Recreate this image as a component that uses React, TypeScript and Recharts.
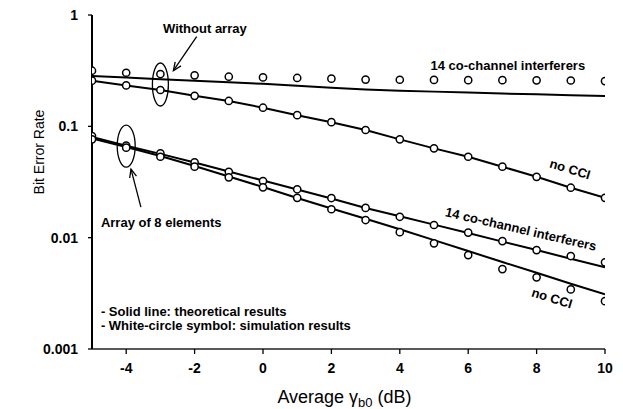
import React from 'react';
import { ComposedChart, Line, XAxis, YAxis, ReferenceDot, ReferenceLine } from 'recharts';

// x values: average gamma_b0 (dB)
const snrDb = [-5, -4, -3, -2, -1, 0, 1, 2, 3, 4, 5, 6, 7, 8, 9, 10];

// Without array, 14 co-channel interferers
const noArrayCciTheory = [0.283, 0.274, 0.265, 0.257, 0.249, 0.241, 0.232, 0.222, 0.214, 0.209, 0.205, 0.201, 0.197, 0.194, 0.19, 0.187];
const noArrayCciSim = [0.316, 0.303, 0.295, 0.287, 0.279, 0.275, 0.272, 0.268, 0.263, 0.262, 0.261, 0.26, 0.26, 0.259, 0.258, 0.255];
// Without array, no CCI
const noArrayNoCciTheory = [0.257, 0.233, 0.212, 0.188, 0.169, 0.147, 0.126, 0.109, 0.0927, 0.0764, 0.0634, 0.0533, 0.0434, 0.0352, 0.0281, 0.0228];
const noArrayNoCciSim = [0.257, 0.233, 0.212, 0.188, 0.169, 0.147, 0.126, 0.109, 0.0927, 0.0764, 0.0634, 0.0533, 0.0434, 0.0352, 0.0281, 0.0228];
// Array of 8 elements, 14 co-channel interferers
const arrayCciTheory = [0.0801, 0.067, 0.0566, 0.0473, 0.0393, 0.0326, 0.0271, 0.0225, 0.0185, 0.0156, 0.0131, 0.011, 0.00921, 0.00774, 0.00646, 0.00541];
const arrayCciSim = [0.0818, 0.067, 0.0572, 0.0475, 0.0391, 0.0323, 0.0272, 0.0227, 0.0185, 0.0154, 0.013, 0.0111, 0.00932, 0.00774, 0.00684, 0.006];
// Array of 8 elements, no CCI
const arrayNoCciTheory = [0.0777, 0.0652, 0.0541, 0.044, 0.0354, 0.0285, 0.0227, 0.0183, 0.0148, 0.0119, 0.00951, 0.00758, 0.00604, 0.00484, 0.00385, 0.0031];
const arrayNoCciSim = [0.0764, 0.0643, 0.0533, 0.0434, 0.0348, 0.0283, 0.0228, 0.018, 0.0144, 0.0112, 0.00889, 0.00698, 0.00522, 0.0044, 0.00343, 0.00269];

const xTicks = [-4, -2, 0, 2, 4, 6, 8, 10];
const yTicks = [0.001, 0.01, 0.1, 1];
const yTickLabels: Record<string, string> = { '0.001': '0.001', '0.01': '0.01', '0.1': '0.1', '1': '1' };

const data = snrDb.map((x, i) => ({
  x,
  t1: noArrayCciTheory[i],
  s1: noArrayCciSim[i],
  t2: noArrayNoCciTheory[i],
  s2: noArrayNoCciSim[i],
  t3: arrayCciTheory[i],
  s3: arrayCciSim[i],
  t4: arrayNoCciTheory[i],
  s4: arrayNoCciSim[i],
}));

const FONT = '"Liberation Sans", Arial, Helvetica, sans-serif';

const textShape = (text: string, rotate = 0, anchor: 'start' | 'middle' | 'end' = 'middle', size = 13) =>
  (p: any) => (
    <text
      x={p.cx}
      y={p.cy}
      textAnchor={anchor}
      dominantBaseline="central"
      fontSize={size}
      fontWeight="bold"
      fontFamily={FONT}
      fill="#000"
      transform={rotate ? `rotate(${rotate} ${p.cx} ${p.cy})` : undefined}
    >
      {text}
    </text>
  );

const ellipseShape = (rx: number, ry: number) => (p: any) => (
  <ellipse cx={p.cx} cy={p.cy} rx={rx} ry={ry} fill="none" stroke="#000" strokeWidth={1.3} />
);

const arrowShape = (p: any) => {
  const { x1, y1, x2, y2 } = p;
  const ang = Math.atan2(y2 - y1, x2 - x1);
  const len = 9;
  const spread = 0.4;
  const ax = x2 - len * Math.cos(ang - spread);
  const ay = y2 - len * Math.sin(ang - spread);
  const bx = x2 - len * Math.cos(ang + spread);
  const by = y2 - len * Math.sin(ang + spread);
  return (
    <g stroke="#000" strokeWidth={1.3} fill="none">
      <line x1={x1} y1={y1} x2={x2} y2={y2} />
      <polyline points={`${ax},${ay} ${x2},${y2} ${bx},${by}`} />
    </g>
  );
};

const simDot = { r: 3.6, fill: '#fff', stroke: '#000', strokeWidth: 1.5 };

const xLabel = (props: any) => {
  const vb = props.viewBox || {};
  const cx = vb.x + vb.width / 2 - 4;
  return (
    <text x={cx} y={vb.y + 54} textAnchor="middle" fontSize={18} fontFamily={FONT} fill="#000">
      <tspan>Average γ</tspan>
      <tspan fontSize={13} dy={4}>b0</tspan>
      <tspan dy={-4}> (dB)</tspan>
    </text>
  );
};

const yLabel = () => {
  const x = 39;
  const y = 152;
  return (
    <text
      x={x}
      y={y}
      textAnchor="middle"
      dominantBaseline="central"
      fontSize={14}
      fontFamily={FONT}
      fill="#000"
      transform={`rotate(-90 ${x} ${y})`}
    >
      Bit Error Rate
    </text>
  );
};

export default function App() {
  return (
    <div style={{ position: 'absolute', left: 0, top: 0, width: 623, height: 409, background: '#fff' }}>
      <ComposedChart width={623} height={409} data={data} margin={{ top: 15, right: 18, bottom: 0, left: 0 }}>
        <XAxis
          dataKey="x"
          type="number"
          domain={[-5, 10]}
          ticks={xTicks}
          allowDataOverflow
          height={60}
          tickSize={5}
          tickMargin={9}
          axisLine={{ stroke: '#222', strokeWidth: 1.5 }}
          tickLine={{ stroke: '#000', strokeWidth: 1.3 }}
          tick={{ fill: '#000', fontSize: 14, fontWeight: 'bold', fontFamily: FONT }}
          label={xLabel}
        />
        <XAxis
          xAxisId="top"
          orientation="top"
          dataKey="x"
          type="number"
          domain={[-5, 10]}
          height={0}
          tick={false}
          tickLine={false}
          axisLine={{ stroke: '#666', strokeWidth: 2 }}
        />
        <YAxis
          scale="log"
          domain={[0.001, 1]}
          ticks={yTicks}
          allowDataOverflow
          width={92}
          tickSize={4}
          tickMargin={10}
          tickFormatter={(v: number) => yTickLabels[String(v)] ?? String(v)}
          axisLine={{ stroke: '#000', strokeWidth: 2 }}
          tickLine={{ stroke: '#000', strokeWidth: 1.3 }}
          tick={{ fill: '#000', fontSize: 14, fontWeight: 'bold', fontFamily: FONT }}
          label={yLabel}
        />
        <YAxis
          yAxisId="right"
          orientation="right"
          scale="log"
          domain={[0.001, 1]}
          width={0}
          tick={false}
          tickLine={false}
          axisLine={{ stroke: '#000', strokeWidth: 1.5 }}
        />

        <Line dataKey="t1" stroke="#000" strokeWidth={2} dot={false} isAnimationActive={false} />
        <Line dataKey="t2" stroke="#000" strokeWidth={2} dot={false} isAnimationActive={false} />
        <Line dataKey="t3" stroke="#000" strokeWidth={2} dot={false} isAnimationActive={false} />
        <Line dataKey="t4" stroke="#000" strokeWidth={2} dot={false} isAnimationActive={false} />
        <Line dataKey="s1" stroke="none" dot={simDot} activeDot={false} isAnimationActive={false} />
        <Line dataKey="s2" stroke="none" dot={simDot} activeDot={false} isAnimationActive={false} />
        <Line dataKey="s3" stroke="none" dot={simDot} activeDot={false} isAnimationActive={false} />
        <Line dataKey="s4" stroke="none" dot={simDot} activeDot={false} isAnimationActive={false} />

        {/* annotations */}
        <ReferenceDot x={-1.7} y={0.76} shape={textShape('Without array')} />
        <ReferenceLine segment={[{ x: -1.94, y: 0.638 }, { x: -2.62, y: 0.316 }]} shape={arrowShape} />
        <ReferenceDot x={-3} y={0.2375} shape={ellipseShape(8, 21.5)} />
        <ReferenceDot x={-4} y={0.0665} shape={ellipseShape(9, 21)} />
        <ReferenceLine segment={[{ x: -3.57, y: 0.0188 }, { x: -3.86, y: 0.0413 }]} shape={arrowShape} />
        <ReferenceDot x={-4.74} y={0.0138} shape={textShape('Array of 8 elements', 0, 'start')} />
        <ReferenceDot x={-4.74} y={0.00219} shape={textShape('- Solid line: theoretical results', 0, 'start')} />
        <ReferenceDot x={-4.74} y={0.00161} shape={textShape('- White-circle symbol: simulation results', 0, 'start')} />
        <ReferenceDot x={7.16} y={0.355} shape={textShape('14 co-channel interferers')} />
        <ReferenceDot x={8.98} y={0.0413} shape={textShape('no CCI', 17)} />
        <ReferenceDot x={7.54} y={0.01194} shape={textShape('14 co-channel interferers', 13)} />
        <ReferenceDot x={8.45} y={0.00287} shape={textShape('no CCI', 17)} />
      </ComposedChart>
    </div>
  );
}
